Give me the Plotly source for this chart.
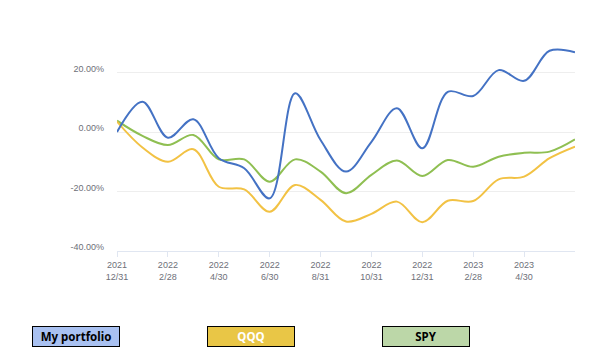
import plotly.graph_objects as go

dates = ["2021-12-31", "2022-01-31", "2022-02-28", "2022-03-31", "2022-04-30", "2022-05-31",
         "2022-06-30", "2022-07-31", "2022-08-31", "2022-09-30", "2022-10-31", "2022-11-30",
         "2022-12-31", "2023-01-31", "2023-02-28", "2023-03-31", "2023-04-30", "2023-05-31",
         "2023-06-30"]

my_portfolio = [0.0, 10.2, -1.9, 4.3, -8.8, -12.2, -22.3, 13.0, -2.7, -13.3, -3.3, 8.0,
                -5.5, 13.5, 12.1, 20.8, 17.2, 27.3, 26.8]
qqq = [3.5, -5.2, -10.0, -5.8, -18.4, -19.3, -26.8, -17.8, -22.8, -30.1, -27.5, -23.4,
       -30.3, -23.1, -23.2, -15.9, -15.0, -8.8, -4.9]
spy = [3.8, -1.3, -4.4, -1.0, -9.2, -9.2, -16.7, -9.2, -13.3, -20.6, -14.4, -9.6,
       -14.8, -9.4, -11.7, -8.3, -7.0, -6.6, -2.5]

tick_dates = dates[0:17:2]
tick_text = ["2021<br>12/31", "2022<br>2/28", "2022<br>4/30", "2022<br>6/30", "2022<br>8/31",
             "2022<br>10/31", "2022<br>12/31", "2023<br>2/28", "2023<br>4/30"]
y_ticks = [-40, -20, 0, 20, 40]
y_text = ["-40.00%", "-20.00%", "0.00%", "20.00%", ""]

series = [("My portfolio", my_portfolio, "#4472c4"),
          ("QQQ", qqq, "#f2c244"),
          ("SPY", spy, "#8fbf52")]

fig = go.Figure()
for name, vals, col in [series[2], series[1], series[0]]:
    fig.add_trace(go.Scatter(x=dates, y=vals, name=name, mode="lines",
                             line=dict(color=col, width=2, shape="spline", smoothing=1.0),
                             showlegend=False))

# page body has an 8px default margin; compensate
W, H = 596, 351
ML, MR, MT, MB = 109, 29, 5, 108
fig.update_layout(
    width=W, height=H,
    margin=dict(l=ML, r=MR, t=MT, b=MB),
    paper_bgcolor="white", plot_bgcolor="white",
    font=dict(family="Liberation Sans, Arial, sans-serif", size=9, color="#6e7079"),
)
fig.update_xaxes(type="category", range=[0, len(dates) - 1],
                 tickmode="array", tickvals=tick_dates, ticktext=tick_text,
                 showgrid=False, showline=True, linecolor="#e0e6f1", linewidth=1,
                 ticks="outside", ticklen=5, tickcolor="#e0e6f1", zeroline=False,
                 tickfont=dict(size=9, color="#6e7079"))
fig.update_yaxes(range=[-40, 40], tickmode="array", tickvals=y_ticks, ticktext=y_text,
                 showgrid=True, gridcolor="#eeeeee", gridwidth=1, zeroline=False,
                 showline=False, ticks="", ticklabelstandoff=12, ticklabelshift=-4,
                 tickfont=dict(size=9, color="#6e7079"))

plot_w = W - ML - MR
plot_h = H - MT - MB
legend = [("My portfolio", "#a9c1f1", "black", 76),
          ("QQQ", "#e9c646", "white", 251),
          ("SPY", "#bcd7a8", "black", 426)]
for text, bg, fc, cx in legend:
    fx = cx - 8
    fy = 336 - 8
    fig.add_annotation(xref="paper", yref="paper",
                       x=(fx - ML) / plot_w, y=-(fy - (MT + plot_h)) / plot_h,
                       xanchor="center", yanchor="middle", showarrow=False,
                       text="<b>" + text + "</b>",
                       font=dict(family="Noto Sans, sans-serif", size=11.5, color=fc),
                       bgcolor=bg, bordercolor="black", borderwidth=1, borderpad=0,
                       width=86, height=19, align="center", valign="middle")

fig.write_html("out.html")
